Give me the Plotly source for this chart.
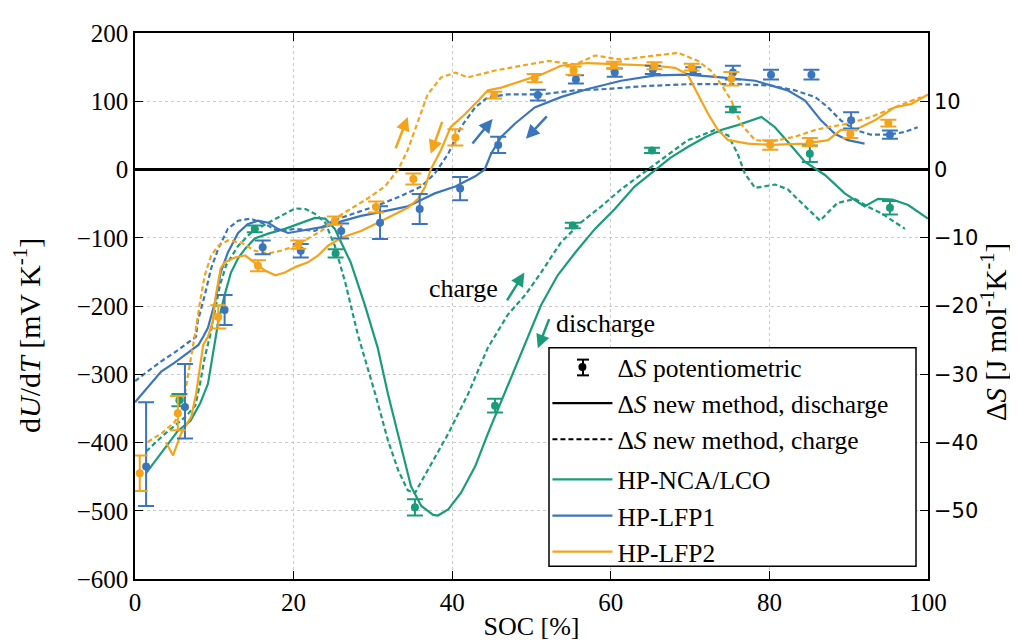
import plotly.graph_objects as go

# colours of the three cells
GREEN = "#1a9c7a"
BLUE = "#3b76bd"
ORANGE = "#f5a31a"

# HP-NCA/LCO, new method
nca_dis_soc = [1.4, 3.3, 5.4, 7.0, 8.2, 9.2, 9.8, 10.5, 11.3, 12.1, 13.0, 13.9, 15.1, 16.8, 18.9, 20.9,
               22.7, 24.0, 25.2, 26.0, 27.2, 29.0, 30.6, 31.9, 33.5, 34.8, 36.1, 37.6, 38.2, 39.5, 41.1,
               42.9, 44.5, 46.2, 47.9, 49.6, 51.2, 53.3, 55.5, 58.0, 60.5, 63.0, 65.6, 67.5, 69.7, 72.0,
               73.9, 76.0, 79.0, 80.7, 82.5, 84.5, 87.0, 89.5, 92.0, 93.7, 95.5, 97.5, 100.0]
nca_dis_val = [-445, -416, -383, -368, -343, -314, -271, -223, -184, -151, -130, -116, -101, -94, -87, -78,
               -71, -72, -87, -107, -136, -199, -261, -329, -406, -464, -493, -506, -507, -498, -474,
               -435, -387, -339, -290, -242, -199, -155, -122, -87, -58, -25, 0, 17, 33, 48,
               58, 65, 77, 62, 38, 11, -8, -35, -54, -43, -44, -52, -72]
nca_chg_soc = [1.4, 3.8, 6.4, 7.6, 8.2, 8.8, 9.5, 10.1, 10.7, 11.5, 13.0, 14.6, 16.8, 18.9, 20.2, 21.5,
               22.7, 24.0, 25.2, 26.5, 28.1, 30.3, 31.9, 33.2, 34.4, 35.3, 36.9, 39.5, 42.0, 44.5, 47.0,
               49.2, 51.2, 53.7, 56.2, 58.8, 61.3, 64.7, 67.0, 69.7, 71.0, 73.1, 74.8, 76.0, 76.9, 78.2,
               80.7, 82.3, 84.5, 86.4, 87.8, 88.6, 90.8, 92.5, 94.1, 95.5, 97.1]
nca_chg_val = [-413, -387, -362, -346, -314, -275, -242, -205, -170, -140, -112, -93, -78, -65, -57, -58,
               -65, -78, -112, -165, -242, -329, -397, -441, -470, -474, -441, -387, -329, -261, -213,
               -184, -151, -107, -78, -54, -29, 0, 20, 43, 48, 58, 50, 23, -6, -27,
               -22, -29, -54, -75, -58, -49, -43, -55, -64, -75, -87]

# HP-LFP1, new method
lfp1_dis_soc = [0.0, 1.6, 3.3, 5.0, 6.7, 8.0, 8.6, 9.2, 10.1, 10.8, 11.7, 13.0, 14.2, 15.5, 16.8, 18.0,
                19.3, 20.9, 22.7, 24.3, 26.0, 28.5, 30.3, 32.0, 34.4, 36.0, 37.8, 40.4, 42.9, 44.1, 44.9,
                46.2, 47.9, 50.4, 53.7, 57.1, 61.3, 65.6, 69.7, 73.9, 78.2, 82.3, 84.5, 86.5, 88.3, 89.9, 92.0]
lfp1_dis_val = [-341, -319, -296, -283, -268, -257, -245, -232, -194, -151, -122, -93, -80, -75, -78, -87,
                -93, -90, -87, -83, -76, -68, -64, -60, -54, -45, -35, -25, -10, 0, 23,
                48, 67, 91, 106, 118, 130, 138, 139, 135, 130, 116, 101, 72, 52, 43, 38]
lfp1_chg_soc = [0.0, 1.6, 3.3, 5.0, 6.7, 7.7, 7.9, 8.8, 9.6, 10.5, 11.7, 13.0, 14.6, 16.4, 18.0, 20.2,
                22.7, 25.2, 27.7, 30.3, 33.5, 36.1, 37.8, 39.5, 41.1, 42.9, 44.5, 47.0, 51.2, 55.5, 59.6,
                64.0, 69.7, 76.0, 80.2, 83.2, 85.8, 87.4, 89.0, 90.8, 92.8, 95.0, 97.1, 98.7]
lfp1_chg_val = [-310, -296, -281, -268, -254, -245, -223, -184, -145, -116, -87, -75, -72, -80, -90, -87,
                -90, -74, -64, -54, -39, -25, -6, 23, 62, 91, 106, 110, 110, 116, 118,
                122, 125, 125, 123, 116, 106, 91, 72, 58, 51, 51, 55, 62]

# HP-LFP2, new method
lfp2_dis_soc = [3.9, 4.8, 5.8, 7.1, 7.7, 8.2, 8.6, 9.2, 9.8, 10.2, 10.8, 11.3, 12.6, 13.9, 15.1, 16.4,
                17.7, 18.9, 20.2, 21.8, 23.1, 24.3, 26.0, 28.5, 30.3, 32.0, 34.4, 35.7, 36.6, 37.3, 38.6,
                39.8, 41.6, 43.3, 44.5, 46.2, 48.7, 51.2, 53.7, 57.1, 61.3, 65.6, 68.1, 69.7, 71.0, 72.3,
                73.5, 74.8, 77.3, 80.2, 84.5, 87.4, 89.0, 90.8, 93.3, 95.8, 97.9, 100.0]
lfp2_dis_val = [-400, -419, -387, -362, -329, -290, -257, -245, -223, -184, -145, -136, -129, -126, -136, -148,
                -155, -151, -143, -136, -126, -112, -100, -90, -80, -70, -56, -43, -25, 0, 29,
                62, 81, 101, 116, 120, 130, 139, 152, 156, 154, 152, 149, 139, 110, 81,
                58, 43, 38, 36, 38, 43, 58, 58, 72, 91, 96, 110]
lfp2_chg_soc = [1.6, 3.3, 5.0, 6.0, 6.7, 7.3, 7.7, 8.2, 8.8, 9.6, 10.5, 11.7, 13.4, 15.1, 16.8, 18.4,
                20.2, 21.8, 23.5, 25.2, 27.7, 29.4, 31.5, 33.2, 34.4, 35.7, 36.9, 38.6, 40.4, 42.0, 45.4,
                48.7, 52.1, 55.5, 58.0, 61.3, 65.6, 68.5, 71.0, 72.6, 73.9, 75.2, 76.4, 78.2, 80.2, 83.2,
                85.8, 87.4, 89.9, 92.8, 95.8, 99.1]
lfp2_chg_val = [-399, -387, -370, -348, -300, -261, -232, -194, -155, -126, -112, -104, -107, -119, -123, -119,
                -112, -101, -90, -72, -54, -42, -25, 0, 29, 72, 110, 135, 142, 135, 145,
                152, 159, 154, 167, 161, 167, 171, 159, 145, 125, 101, 67, 43, 41, 48,
                58, 62, 67, 77, 91, 106]

# potentiometric reference points with error bars
nca_pot_soc = [5.6, 15.1, 25.3, 35.3, 45.4, 55.2, 65.2, 75.4, 85.1, 95.2]
nca_pot_val = [-338, -87, -123, -495, -346, -82, 28, 88, 23, -56]
nca_pot_err = [9, 5, 6, 12, 10, 4, 4, 4, 12, 10]

lfp1_pot_soc = [1.4, 6.3, 11.3, 16.1, 20.9, 26.0, 30.9, 35.9, 41.0, 45.8, 50.8, 55.6, 60.5, 65.3, 70.4,
                75.4, 80.2, 85.3, 90.3, 95.2]
lfp1_pot_val = [-435, -348, -206, -114, -119, -90, -78, -58, -28, 36, 109, 132, 142, 146, 145,
                142, 139, 139, 72, 51]
lfp1_pot_up = [94, 63, 22, 10, 10, 11, 24, 22, 17, 12, 8, 6, 6, 6, 5, 10, 7, 7, 12, 6]
lfp1_pot_down = [58, 46, 22, 10, 10, 11, 24, 22, 17, 12, 8, 6, 6, 6, 5, 10, 7, 7, 12, 6]

lfp2_pot_soc = [0.6, 5.4, 10.5, 15.5, 20.6, 25.2, 30.4, 35.1, 40.4, 45.3, 50.4, 55.3, 60.4, 65.5, 70.2,
                75.2, 80.1, 85.1, 90.2, 95.0]
lfp2_pot_val = [-445, -357, -216, -141, -110, -75, -55, -14, 47, 109, 134, 145, 153, 152, 150,
                133, 36, 40, 52, 68]
lfp2_pot_err = [26, 25, 17, 8, 6, 6, 8, 8, 12, 5, 6, 6, 5, 5, 5, 10, 7, 6, 6, 5]

SERIF = "Liberation Serif, Times New Roman, serif"
DASH = "5px,3px"

# plot area in pixels, used to place the paper-anchored bits
L, R, T, B = 127, 920, 25, 580


def px(x):
    return (x - L) / (R - L)


def py(y):
    return (B - y) / (B - T)


fig = go.Figure()

# new-method curves
curves = [
    (nca_chg_soc, nca_chg_val, GREEN, DASH),
    (nca_dis_soc, nca_dis_val, GREEN, "solid"),
    (lfp1_chg_soc, lfp1_chg_val, BLUE, DASH),
    (lfp1_dis_soc, lfp1_dis_val, BLUE, "solid"),
    (lfp2_chg_soc, lfp2_chg_val, ORANGE, DASH),
    (lfp2_dis_soc, lfp2_dis_val, ORANGE, "solid"),
]
for xs, ys, col, dash in curves:
    fig.add_trace(go.Scatter(x=xs, y=ys, mode="lines", showlegend=False,
                             line=dict(color=col, width=2.2, dash=dash)))

# potentiometric points
pots = [
    (nca_pot_soc, nca_pot_val, nca_pot_err, nca_pot_err, GREEN),
    (lfp1_pot_soc, lfp1_pot_val, lfp1_pot_up, lfp1_pot_down, BLUE),
    (lfp2_pot_soc, lfp2_pot_val, lfp2_pot_err, lfp2_pot_err, ORANGE),
]
for xs, ys, up, down, col in pots:
    fig.add_trace(go.Scatter(
        x=xs, y=ys, mode="markers", showlegend=False,
        marker=dict(color=col, size=8),
        error_y=dict(type="data", symmetric=False, array=up, arrayminus=down,
                     color=col, thickness=2, width=8),
    ))

# legend entries
fig.add_trace(go.Scatter(x=[None], y=[None], mode="markers", name="Δ<i>S</i> potentiometric",
                         legendgroup="a", marker=dict(color="black", size=8)))
fig.add_trace(go.Scatter(x=[None], y=[None], mode="lines", name="Δ<i>S</i> new method, discharge",
                         legendgroup="a", line=dict(color="black", width=2.2)))
fig.add_trace(go.Scatter(x=[None], y=[None], mode="lines", name="Δ<i>S</i> new method, charge",
                         legendgroup="a", line=dict(color="black", width=2.2, dash=DASH)))
for name, col in [("HP-NCA/LCO", GREEN), ("HP-LFP1", BLUE), ("HP-LFP2", ORANGE)]:
    fig.add_trace(go.Scatter(x=[None], y=[None], mode="lines", name=name,
                             legendgroup="b", line=dict(color=col, width=2.2)))

# dummy trace so the right axis gets drawn
fig.add_trace(go.Scatter(x=[None], y=[None], yaxis="y2", showlegend=False, hoverinfo="skip"))

# legend box drawn as a shape so the error-bar glyph can sit on top of it
fig.add_shape(type="rect", xref="paper", yref="paper", x0=px(541), x1=px(908), y0=py(567), y1=py(345),
              fillcolor="white", line=dict(color="black", width=1.5), layer="above")
gx, gy = 575, 365
for x0, y0, x1, y1 in [(gx, gy - 8, gx, gy + 8), (gx - 6, gy - 8, gx + 6, gy - 8),
                       (gx - 6, gy + 8, gx + 6, gy + 8)]:
    fig.add_shape(type="line", xref="paper", yref="paper", x0=px(x0), y0=py(y0), x1=px(x1), y1=py(y1),
                  line=dict(color="black", width=2), layer="above")

# direction arrows: (head x, head y, tail x, tail y, colour)
arrows = [
    (34.4, 77, 32.8, 29, ORANGE),
    (37.3, 23, 38.8, 72, ORANGE),
    (45.1, 74, 42.4, 36, BLUE),
    (49.3, 45, 52.1, 80, BLUE),
    (49.1, -151, 46.8, -194, GREEN),
    (50.8, -262, 52.3, -217, GREEN),
]
for hx, hy, tx, ty, col in arrows:
    fig.add_annotation(x=hx, y=hy, ax=tx, ay=ty, xref="x", yref="y", axref="x", ayref="y",
                       text="", showarrow=True, arrowhead=2, arrowsize=1.1, arrowwidth=2.5,
                       arrowcolor=col)

fig.add_annotation(x=41.4, y=-174, text="charge", showarrow=False,
                   font=dict(family=SERIF, size=26, color="black"))
fig.add_annotation(x=59.3, y=-226, text="discharge", showarrow=False,
                   font=dict(family=SERIF, size=26, color="black"))

# axis titles placed by hand (they sit a bit below the plot centre in the original)
fig.add_annotation(x=px(19), y=py(332), xref="paper", yref="paper", xanchor="center", yanchor="middle",
                   text="d<i>U</i>/d<i>T</i> [mV K<sup>-1</sup>]", textangle=-90, showarrow=False,
                   font=dict(family=SERIF, size=30, color="black"))
fig.add_annotation(x=px(986), y=py(329), xref="paper", yref="paper", xanchor="center", yanchor="middle",
                   text="Δ<i>S</i> [J mol<sup>-1</sup>K<sup>-1</sup>]", textangle=-90, showarrow=False,
                   font=dict(family=SERIF, size=29, color="black"))

grid = dict(showgrid=True, gridcolor="#c9c9c9", griddash="dot", gridwidth=1)
tickfont = dict(family=SERIF, size=25, color="black")

fig.update_layout(
    width=1018, height=640,
    margin=dict(l=L, r=1018 - R, t=T, b=640 - B),
    paper_bgcolor="white", plot_bgcolor="white",
    font=dict(family=SERIF, size=25, color="black"),
    xaxis=dict(range=[0, 100], dtick=20, tickfont=tickfont,
               title=dict(text="SOC [%]", font=dict(family=SERIF, size=26), standoff=2),
               showline=True, linecolor="black", linewidth=1.5, mirror="ticks",
               ticks="inside", ticklen=8, tickcolor="black", zeroline=False, **grid),
    yaxis=dict(range=[-600, 200], dtick=100, tickfont=tickfont,
               showline=True, linecolor="black", linewidth=1.5,
               ticks="inside", ticklen=8, tickcolor="black",
               zeroline=True, zerolinecolor="black", zerolinewidth=2.5, **grid),
    yaxis2=dict(range=[-60, 20], tickvals=[-50, -40, -30, -20, -10, 0, 10], overlaying="y", side="right",
                tickfont=dict(family="DejaVu Sans", size=21, color="black"),
                showline=True, linecolor="black", linewidth=1.5,
                ticks="inside", ticklen=8, tickcolor="black",
                showgrid=False, zeroline=False),
    showlegend=True,
    legend=dict(x=px(541) - 0.002, y=py(341), xanchor="left", yanchor="top",
                bgcolor="rgba(0,0,0,0)", borderwidth=0,
                font=dict(family=SERIF, size=25.5), traceorder="grouped",
                tracegroupgap=4, itemwidth=60),
)

fig.write_html("out.html")
